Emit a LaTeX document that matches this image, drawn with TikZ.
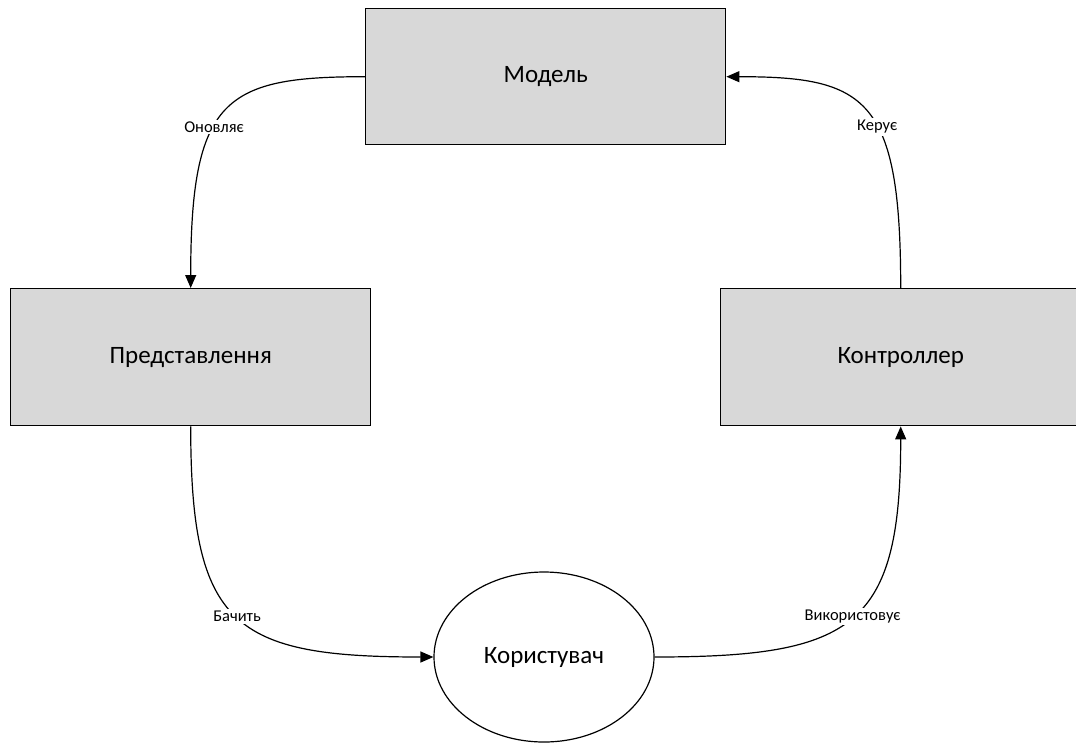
\documentclass[tikz,border=0pt]{standalone}
\usepackage{fontspec}
\setmainfont{Carlito}
\usetikzlibrary{arrows.meta,shapes.geometric}
\definecolor{boxgray}{HTML}{D8D8D8}
\begin{document}
\begin{tikzpicture}[x=1pt,y=-1pt,
  box/.style={draw=black, line width=1.4pt, fill=boxgray, rectangle,
    anchor=north west, inner sep=0pt, minimum width=360pt,
    font=\fontsize{25}{30}\selectfont},
  actor/.style={draw=black, line width=1.2pt, fill=white, ellipse,
    inner sep=0pt, minimum width=220pt, minimum height=170pt,
    font=\fontsize{25}{30}\selectfont},
  link/.style={line width=1.2pt, -{Triangle[length=13pt,width=11pt]}},
  tag/.style={fill=white, inner sep=2pt, font=\fontsize{16.5}{19}\selectfont}]
  \useasboundingbox (0,0) rectangle (1076,742);

  % blocks
  \node[box, minimum height=136pt] (model) at (365,8) {Модель};
  \node[box, minimum height=137pt] (view) at (10,288) {Представлення};
  \node[box, minimum height=137pt] (ctrl) at (720,288) {Контроллер};
  \node[actor] (user) at (544,657) {Користувач};

  % connectors
  \draw[link] (model.west) .. controls +(-140,0) and +(0,-190) .. (view.north)
    node[tag, pos=0.58] (lupd) {Оновляє};
  \draw[link] (ctrl.north) .. controls +(0,-190) and +(140,0) .. (model.east)
    node[tag, pos=0.42] (lctl) {Керує};
  \draw[link] (view.south) .. controls +(0,200) and +(-200,0) .. (user.west)
    node[tag, pos=0.5] (lsee) {Бачить};
  \draw[link] (user.east) .. controls +(200,0) and +(0,200) .. (ctrl.south)
    node[tag, pos=0.5] (luse) {Використовує};
\end{tikzpicture}
\end{document}
